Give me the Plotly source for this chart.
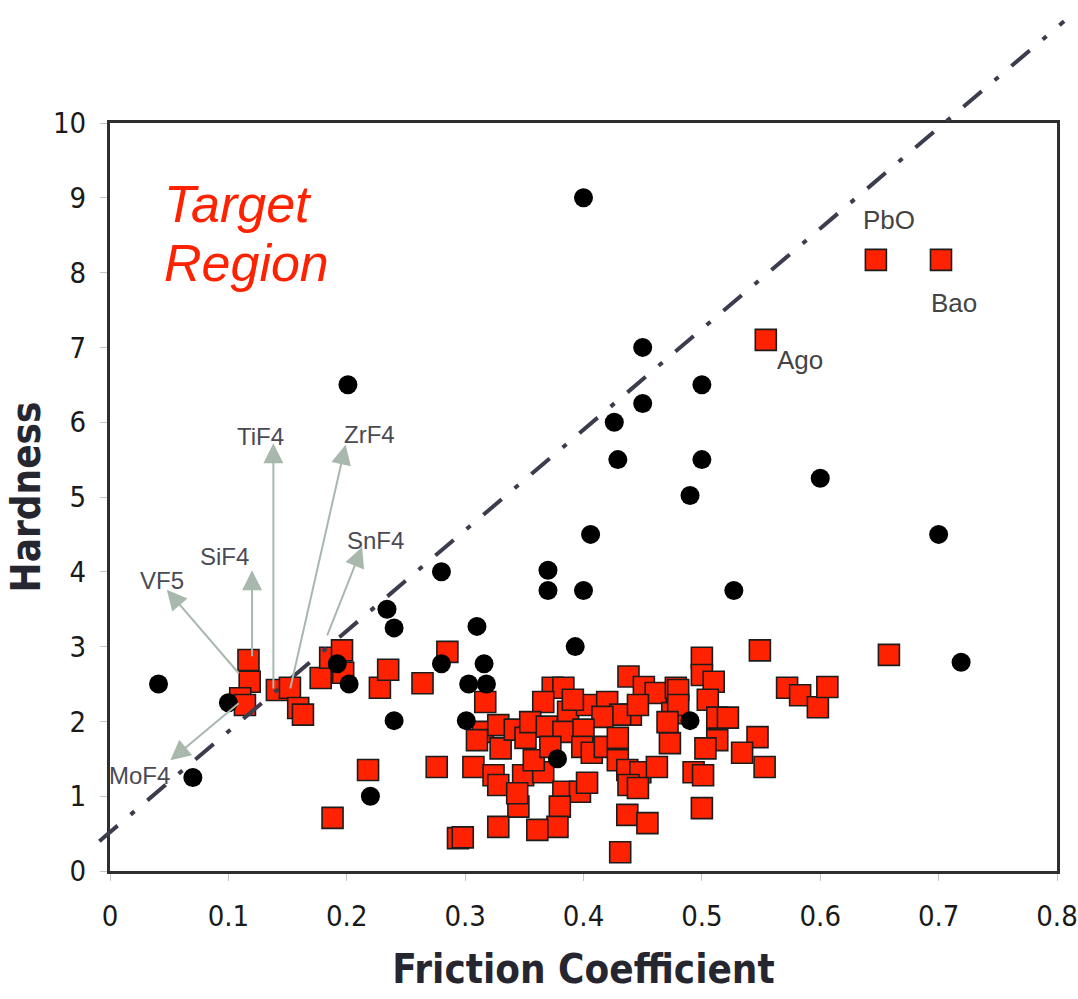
import plotly.graph_objects as go

# ---- axis ticks ----
x_tick_vals = [0, 0.1, 0.2, 0.3, 0.4, 0.5, 0.6, 0.7, 0.8]
x_tick_text = ["0", "0.1", "0.2", "0.3", "0.4", "0.5", "0.6", "0.7", "0.8"]
y_tick_vals = [0, 1, 2, 3, 4, 5, 6, 7, 8, 9, 10]

# ---- black circles ----
circle_friction = [0.400, 0.450, 0.450, 0.426, 0.429, 0.500, 0.500, 0.490, 0.600,
                   0.700, 0.406, 0.527, 0.370, 0.370, 0.400, 0.393, 0.280, 0.234,
                   0.240, 0.201, 0.310, 0.316, 0.318, 0.303, 0.280, 0.301, 0.240,
                   0.202, 0.192, 0.220, 0.041, 0.100, 0.070, 0.378, 0.490, 0.719]
circle_hardness = [9.00, 7.00, 6.25, 6.00, 5.50, 6.50, 5.50, 5.02, 5.25,
                   4.50, 4.50, 3.75, 4.02, 3.75, 3.75, 3.00, 4.00, 3.50,
                   3.25, 6.50, 3.27, 2.77, 2.50, 2.50, 2.77, 2.01, 2.01,
                   2.50, 2.77, 1.00, 2.50, 2.25, 1.25, 1.50, 2.01, 2.79]

# ---- red squares ----
square_friction = [
    # low-friction group
    0.117, 0.118, 0.110, 0.114, 0.141, 0.152, 0.159, 0.163, 0.178, 0.186,
    0.196, 0.197, 0.228, 0.235, 0.218, 0.188, 0.264, 0.276, 0.285, 0.294,
    # central cluster
    0.317, 0.374, 0.383, 0.366, 0.387, 0.403, 0.420, 0.438, 0.451, 0.461,
    0.478, 0.475, 0.440, 0.431, 0.416, 0.446, 0.315, 0.328, 0.310, 0.330,
    0.342, 0.351, 0.355, 0.369, 0.383, 0.400, 0.399, 0.407, 0.418, 0.429,
    0.429, 0.437, 0.448, 0.438, 0.446, 0.462, 0.473, 0.307, 0.324, 0.328,
    0.349, 0.366, 0.383, 0.397, 0.403, 0.345, 0.380, 0.378, 0.361, 0.328,
    0.298, 0.437, 0.454, 0.431, 0.344, 0.358, 0.372, 0.391, 0.480, 0.480,
    0.471,
    # 0.5 - 0.6 group
    0.500, 0.500, 0.510, 0.505, 0.513, 0.522, 0.549, 0.572, 0.583, 0.598,
    0.606, 0.513, 0.503, 0.547, 0.534, 0.553, 0.493, 0.501, 0.500, 0.658,
    # labelled oxides
    0.554, 0.647, 0.702,
]
square_hardness = [
    2.82, 2.53, 2.31, 2.22, 2.42, 2.45, 2.18, 2.09, 2.58, 2.85,
    2.95, 2.65, 2.45, 2.69, 1.35, 0.71, 2.51, 1.39, 2.93, 0.44,
    2.26, 2.45, 2.45, 2.26, 2.13, 2.22, 2.26, 2.60, 2.46, 2.38,
    2.45, 2.11, 2.09, 2.09, 2.06, 2.22, 1.86, 1.95, 1.75, 1.64,
    1.89, 1.78, 1.99, 1.93, 1.86, 1.89, 1.66, 1.58, 1.66, 1.78,
    1.48, 1.35, 1.32, 1.15, 1.11, 1.39, 1.71, 1.39, 1.28, 1.15,
    1.28, 1.32, 1.06, 1.06, 1.18, 0.86, 0.86, 0.59, 0.55, 0.59,
    0.45, 0.75, 0.64, 0.25, 1.04, 1.48, 1.66, 2.29, 2.42, 2.22,
    1.99,
    2.85, 2.62, 2.53, 2.29, 2.05, 2.05, 2.95, 2.45, 2.35, 2.19,
    2.46, 1.75, 1.64, 1.79, 1.58, 1.39, 1.32, 1.28, 0.84, 2.89,
    7.10, 8.17, 8.17,
]

# ---- trend line: hardness = intercept + slope * friction ----
trend_intercept = 0.52
trend_slope = 13.45
trend_friction = [-0.009, 0.806]
trend_hardness = [trend_intercept + trend_slope * f for f in trend_friction]

# ---- fluoride callouts: label, arrow tip, arrow tail, label position ----
callout_names = ["VF5", "SiF4", "TiF4", "ZrF4", "SnF4", "MoF4"]
callout_tip_x = [0.048, 0.120, 0.138, 0.199, 0.213, 0.051]
callout_tip_y = [3.76, 4.02, 5.72, 5.70, 4.33, 1.48]
callout_tail_x = [0.110, 0.120, 0.138, 0.152, 0.183, 0.110]
callout_tail_y = [2.62, 2.85, 2.42, 2.42, 3.13, 2.26]
callout_label_x = [0.044, 0.097, 0.127, 0.219, 0.224, 0.025]
callout_label_y = [3.88, 4.20, 5.81, 5.83, 4.42, 1.28]

# ---- oxide labels ----
oxide_names = ["PbO", "Bao", "Ago"]
oxide_label_x = [0.658, 0.713, 0.583]
oxide_label_y = [8.70, 7.59, 6.83]

# ---- page geometry ----
W, H = 1078, 999
FRAME_L, FRAME_R, FRAME_T, FRAME_B = 110, 1057, 123, 871
X_MIN, X_MAX, Y_MIN, Y_MAX = 0.0, 0.8, 0.0, 10.0

# full-page overlay axis scaled identically to the framed axis,
# so the trend line can run past the frame
x_per_px = (X_MAX - X_MIN) / (FRAME_R - FRAME_L)
y_per_px = (Y_MAX - Y_MIN) / (FRAME_B - FRAME_T)
page_x_range = [X_MIN - FRAME_L * x_per_px, X_MAX + (W - FRAME_R) * x_per_px]
page_y_range = [Y_MIN - (H - FRAME_B) * y_per_px, Y_MAX + FRAME_T * y_per_px]

TICK_FONT = "Liberation Sans Narrow, DejaVu Sans Condensed, Arial Narrow, Liberation Sans, Arial, sans-serif"
TEXT_FONT = "Liberation Sans, Arial, sans-serif"

fig = go.Figure()

fig.add_trace(go.Scatter(
    x=square_friction, y=square_hardness, mode="markers",
    marker=dict(symbol="square", size=21, color="#ff2200",
                line=dict(color="#1c1c1c", width=1.6)),
    cliponaxis=False, showlegend=False, hoverinfo="x+y",
))
fig.add_trace(go.Scatter(
    x=circle_friction, y=circle_hardness, mode="markers",
    marker=dict(symbol="circle", size=19, color="#000000"),
    cliponaxis=False, showlegend=False, hoverinfo="x+y",
))
fig.add_trace(go.Scatter(
    x=trend_friction, y=trend_hardness, mode="lines",
    line=dict(color="#3b3d4f", width=4, dash="24px,17px,5px,17px"),
    xaxis="x2", yaxis="y2", showlegend=False, hoverinfo="skip",
))

annotations = []
for i, name in enumerate(callout_names):
    annotations.append(dict(
        x=callout_tip_x[i], y=callout_tip_y[i], xref="x", yref="y",
        ax=callout_tail_x[i], ay=callout_tail_y[i], axref="x", ayref="y",
        text="", showarrow=True, arrowhead=2, arrowsize=2.0, arrowwidth=2,
        arrowcolor="#a9b8ad", standoff=0, startstandoff=0,
    ))
    annotations.append(dict(
        x=callout_label_x[i], y=callout_label_y[i], xref="x", yref="y",
        text=name, showarrow=False,
        font=dict(family=TEXT_FONT, size=24, color="#4a4a55"),
    ))
for i, name in enumerate(oxide_names):
    annotations.append(dict(
        x=oxide_label_x[i], y=oxide_label_y[i], xref="x", yref="y",
        text=name, showarrow=False,
        font=dict(family=TEXT_FONT, size=26, color="#444444"),
    ))
for word, yv in (("Target", 8.92), ("Region", 8.13)):
    annotations.append(dict(
        x=0.044, y=yv, xref="x", yref="y", xanchor="left", yanchor="middle",
        text="<i>" + word + "</i>", showarrow=False,
        font=dict(family=TEXT_FONT, size=52, color="#ff2200"),
    ))

fig.update_layout(
    width=W, height=H,
    margin=dict(l=0, r=0, t=0, b=0, pad=0),
    paper_bgcolor="white",
    plot_bgcolor="rgba(0,0,0,0)",
    annotations=annotations,
    xaxis=dict(
        domain=[FRAME_L / W, FRAME_R / W], automargin=False,
        range=[X_MIN, X_MAX], tickvals=x_tick_vals, ticktext=x_tick_text,
        showgrid=False, zeroline=False,
        showline=True, mirror=True, linecolor="#2e2e2e", linewidth=3,
        ticks="outside", ticklen=7, tickwidth=1, tickcolor="#c4c4c4",
        ticklabelstandoff=10, ticklabeloverflow="allow",
        tickfont=dict(family=TICK_FONT, size=29, color="#1a1a1a"),
        title=dict(text="<b>Friction Coefficient</b>", standoff=24,
                   font=dict(family=TICK_FONT, size=40, color="#262630")),
    ),
    yaxis=dict(
        domain=[(H - FRAME_B) / H, (H - FRAME_T) / H], automargin=False,
        range=[Y_MIN, Y_MAX], tickvals=y_tick_vals,
        showgrid=False, zeroline=False,
        showline=True, mirror=True, linecolor="#2e2e2e", linewidth=3,
        ticks="outside", ticklen=7, tickwidth=1, tickcolor="#c4c4c4",
        ticklabelstandoff=8, ticklabeloverflow="allow",
        tickfont=dict(family=TICK_FONT, size=29, color="#1a1a1a"),
        title=dict(text="<b>Hardness</b>", standoff=0,
                   font=dict(family=TICK_FONT, size=40, color="#262630")),
    ),
    xaxis2=dict(domain=[0, 1], range=page_x_range, visible=False,
                anchor="y2", automargin=False),
    yaxis2=dict(domain=[0, 1], range=page_y_range, visible=False,
                anchor="x2", automargin=False),
)

fig.write_html("out.html")
